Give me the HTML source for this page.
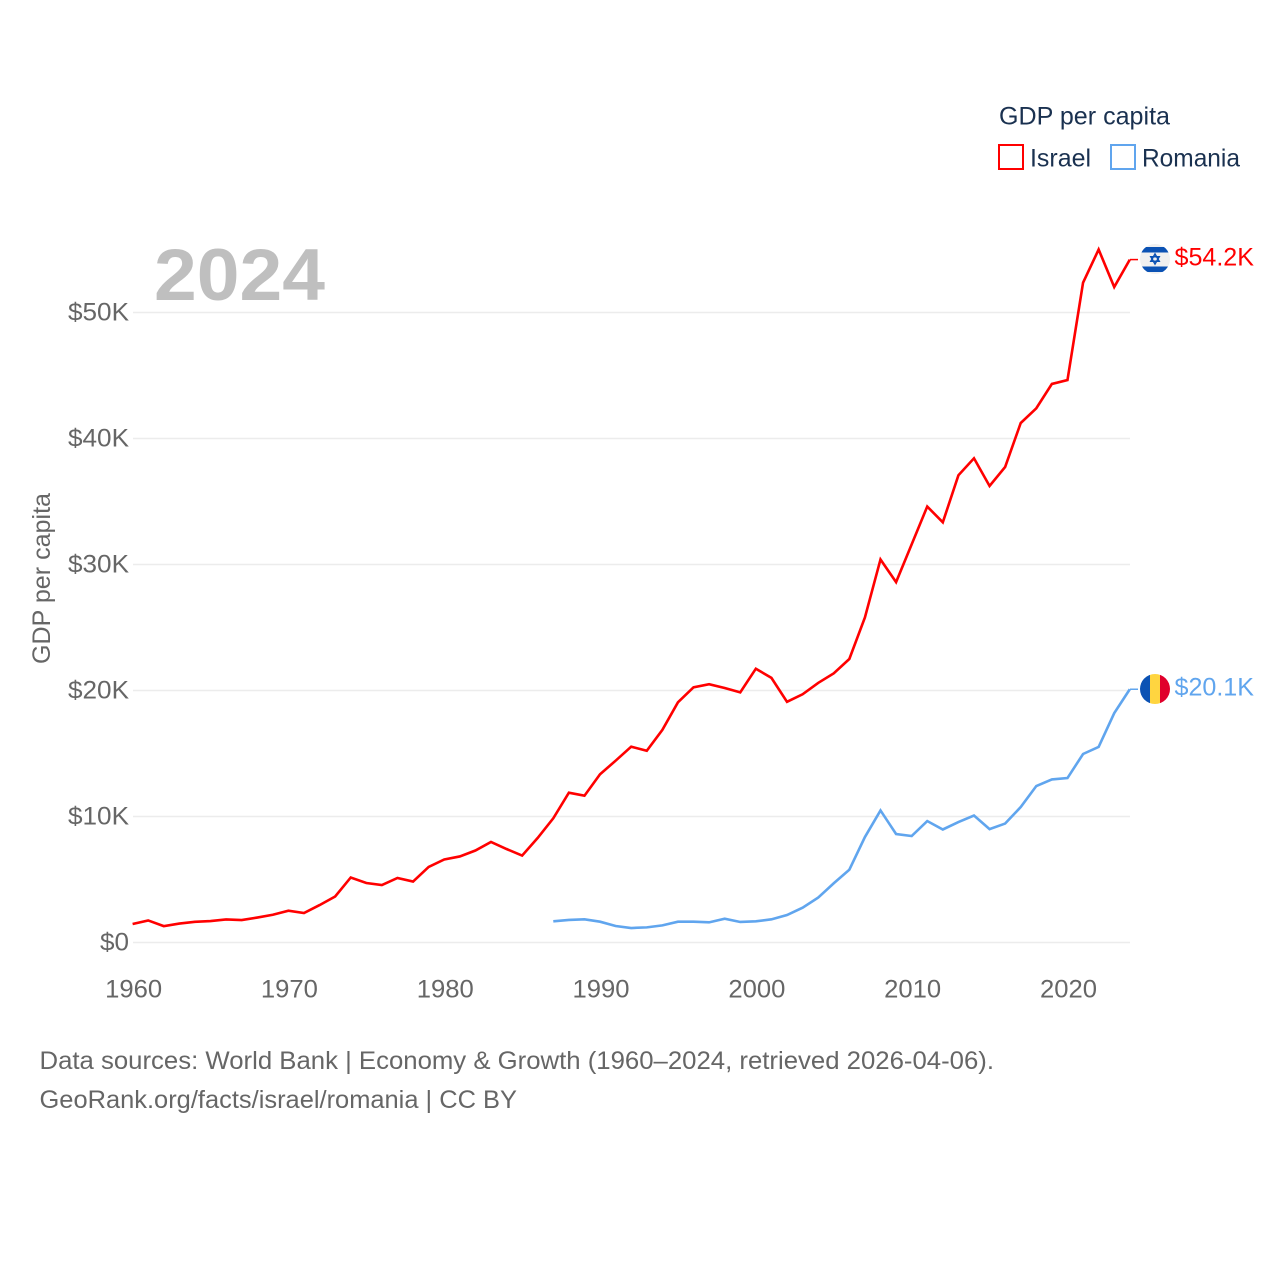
<!DOCTYPE html>
<html lang="en">
<head>
<meta charset="utf-8">
<title>GDP per capita: Israel and Romania</title>
<style>
html,body{margin:0;padding:0;background:#fff;}
svg{display:block;font-family:"Liberation Sans",sans-serif;}
</style>
</head>
<body>
<svg id="chart" xmlns="http://www.w3.org/2000/svg" width="1280" height="1280" viewBox="0 0 1280 1280">
  <rect width="1280" height="1280" fill="#fff"/>
  <g id="grid"></g>
  <g id="yticks"></g>
  <g id="xticks"></g>
  <text x="154" y="300" font-size="73" font-weight="700" fill="#bfbfbf" textLength="171" lengthAdjust="spacingAndGlyphs">2024</text>
  <text transform="translate(50,664) rotate(-90)" font-size="25" fill="#666" textLength="171" lengthAdjust="spacingAndGlyphs">GDP per capita</text>
  <g id="series"></g>

  <g>
    <clipPath id="il-clip"><circle cx="1155" cy="259" r="15"/></clipPath>
    <g clip-path="url(#il-clip)">
      <rect x="1140" y="244" width="30" height="30" fill="#f0f0f0"/>
      <rect x="1140" y="247" width="30" height="5.500" fill="#0b52b4"/>
      <rect x="1140" y="266.500" width="30" height="5.500" fill="#0b52b4"/>
      <polygon points="1155,254 1159.200,261.300 1150.800,261.300" fill="none" stroke="#0b52b4" stroke-width="1.500"/>
      <polygon points="1155,264 1159.200,256.700 1150.800,256.700" fill="none" stroke="#0b52b4" stroke-width="1.500"/>
    </g>
  </g>
  <g>
    <clipPath id="ro-clip"><circle cx="1155" cy="689" r="15"/></clipPath>
    <g clip-path="url(#ro-clip)">
      <rect x="1140" y="674" width="10" height="30" fill="#0b52b4"/>
      <rect x="1150" y="674" width="10" height="30" fill="#ffd540"/>
      <rect x="1160" y="674" width="10" height="30" fill="#e0002b"/>
    </g>
  </g>
  <text x="1174.500" y="265.500" font-size="25" fill="#ff0000" textLength="79.500" lengthAdjust="spacingAndGlyphs">$54.2K</text>
  <text x="1174.500" y="695.500" font-size="25" fill="#60a5ee" textLength="79.500" lengthAdjust="spacingAndGlyphs">$20.1K</text>

  <g>
    <text x="999" y="124.500" font-size="25" fill="#1a3150" textLength="171" lengthAdjust="spacingAndGlyphs">GDP per capita</text>
    <rect x="999" y="145" width="24" height="24" fill="#fff" stroke="#ff0000" stroke-width="2"/>
    <text x="1030" y="166.500" font-size="25" fill="#1a3150" textLength="61" lengthAdjust="spacingAndGlyphs">Israel</text>
    <rect x="1111" y="145" width="24" height="24" fill="#fff" stroke="#60a5ee" stroke-width="2"/>
    <text x="1142" y="166.500" font-size="25" fill="#1a3150" textLength="98" lengthAdjust="spacingAndGlyphs">Romania</text>
  </g>

  <text x="39.500" y="1069" font-size="25" fill="#666" textLength="954.500" lengthAdjust="spacingAndGlyphs">Data sources: World Bank | Economy &amp; Growth (1960–2024, retrieved 2026-04-06).</text>
  <text x="39.500" y="1108" font-size="25" fill="#666" textLength="477.500" lengthAdjust="spacingAndGlyphs">GeoRank.org/facts/israel/romania | CC BY</text>
</svg>
<script>
const years = [1960,1961,1962,1963,1964,1965,1966,1967,1968,1969,1970,1971,1972,1973,1974,1975,1976,1977,1978,1979,1980,1981,1982,1983,1984,1985,1986,1987,1988,1989,1990,1991,1992,1993,1994,1995,1996,1997,1998,1999,2000,2001,2002,2003,2004,2005,2006,2007,2008,2009,2010,2011,2012,2013,2014,2015,2016,2017,2018,2019,2020,2021,2022,2023,2024];
const israel = [1.47,1.75,1.3,1.5,1.64,1.7,1.83,1.78,1.98,2.2,2.52,2.34,2.97,3.65,5.16,4.72,4.56,5.12,4.84,6.0,6.59,6.83,7.3,7.98,7.42,6.9,8.3,9.86,11.89,11.65,13.35,14.43,15.54,15.22,16.87,19.06,20.25,20.5,20.2,19.85,21.73,21.0,19.1,19.7,20.6,21.36,22.5,25.8,30.4,28.6,31.6,34.6,33.35,37.08,38.43,36.23,37.74,41.23,42.4,44.33,44.64,52.37,55.0,52.02,54.2];
const romania = [null,null,null,null,null,null,null,null,null,null,null,null,null,null,null,null,null,null,null,null,null,null,null,null,null,null,null,1.68,1.79,1.84,1.65,1.31,1.15,1.2,1.36,1.65,1.65,1.6,1.89,1.63,1.68,1.84,2.18,2.76,3.56,4.7,5.78,8.37,10.48,8.61,8.45,9.64,8.97,9.56,10.08,9.0,9.44,10.75,12.42,12.94,13.05,14.96,15.52,18.2,20.1];
const yTickValues = [0,10,20,30,40,50];
const yTickLabels = ["$0","$10K","$20K","$30K","$40K","$50K"];
const xTickYears = [1960,1970,1980,1990,2000,2010,2020];

const NS = "http://www.w3.org/2000/svg";
const xScale = function (year) { return 132.6 + (year - 1960) * (1129.8 - 132.6) / (2024 - 1960); };
const yScale = function (value) { return 942.5 - value * 12.6; };

const grid = document.getElementById("grid");
const yticks = document.getElementById("yticks");
const xticks = document.getElementById("xticks");
const seriesGroup = document.getElementById("series");

yTickValues.forEach(function (v, i) {
  const line = document.createElementNS(NS, "line");
  line.setAttribute("x1", 133);
  line.setAttribute("x2", 1130);
  line.setAttribute("y1", yScale(v));
  line.setAttribute("y2", yScale(v));
  line.setAttribute("stroke", "#ececec");
  line.setAttribute("stroke-width", 1.4);
  
  
  grid.appendChild(line);

  const label = yTickLabels[i];
  const t = document.createElementNS(NS, "text");
  t.setAttribute("x", 129);
  t.setAttribute("y", yScale(v) + 8);
  t.setAttribute("text-anchor", "end");
  t.setAttribute("font-size", 25);
  t.setAttribute("fill", "#666");
  t.setAttribute("textLength", label.length > 2 ? 61 : 29);
  t.setAttribute("lengthAdjust", "spacingAndGlyphs");
  t.textContent = label;
  
  
  yticks.appendChild(t);
});

xTickYears.forEach(function (year) {
  const t = document.createElementNS(NS, "text");
  t.setAttribute("x", xScale(year) + 1);
  t.setAttribute("y", 997.5);
  t.setAttribute("text-anchor", "middle");
  t.setAttribute("font-size", 25);
  t.setAttribute("fill", "#666");
  t.setAttribute("textLength", 57);
  t.setAttribute("lengthAdjust", "spacingAndGlyphs");
  t.textContent = String(year);
  
  
  xticks.appendChild(t);
});

function pathFor(values) {
  let d = "";
  values.forEach(function (v, i) {
    if (v === null) return;
    d += (d ? "L" : "M") + xScale(years[i]).toFixed(2) + " " + yScale(v).toFixed(2);
  });
  return d;
}

function lastValue(values) { return values[values.length - 1]; }

const israelLine = document.createElementNS(NS, "path");
israelLine.setAttribute("d", pathFor(israel));
israelLine.setAttribute("fill", "none");
israelLine.setAttribute("stroke", "#ff0000");
israelLine.setAttribute("stroke-width", 2.6);


seriesGroup.appendChild(israelLine);

const romaniaLine = document.createElementNS(NS, "path");
romaniaLine.setAttribute("d", pathFor(romania));
romaniaLine.setAttribute("fill", "none");
romaniaLine.setAttribute("stroke", "#60a5ee");
romaniaLine.setAttribute("stroke-width", 2.6);


seriesGroup.appendChild(romaniaLine);

const israelConnector = document.createElementNS(NS, "line");
israelConnector.setAttribute("x1", 1130);
israelConnector.setAttribute("x2", 1138);
israelConnector.setAttribute("y1", yScale(lastValue(israel)));
israelConnector.setAttribute("y2", yScale(lastValue(israel)));
israelConnector.setAttribute("stroke", "#ff0000");
israelConnector.setAttribute("stroke-width", 1.5);


seriesGroup.appendChild(israelConnector);

const romaniaConnector = document.createElementNS(NS, "line");
romaniaConnector.setAttribute("x1", 1130);
romaniaConnector.setAttribute("x2", 1138);
romaniaConnector.setAttribute("y1", yScale(lastValue(romania)));
romaniaConnector.setAttribute("y2", yScale(lastValue(romania)));
romaniaConnector.setAttribute("stroke", "#60a5ee");
romaniaConnector.setAttribute("stroke-width", 1.5);


seriesGroup.appendChild(romaniaConnector);
</script>
</body>
</html>
